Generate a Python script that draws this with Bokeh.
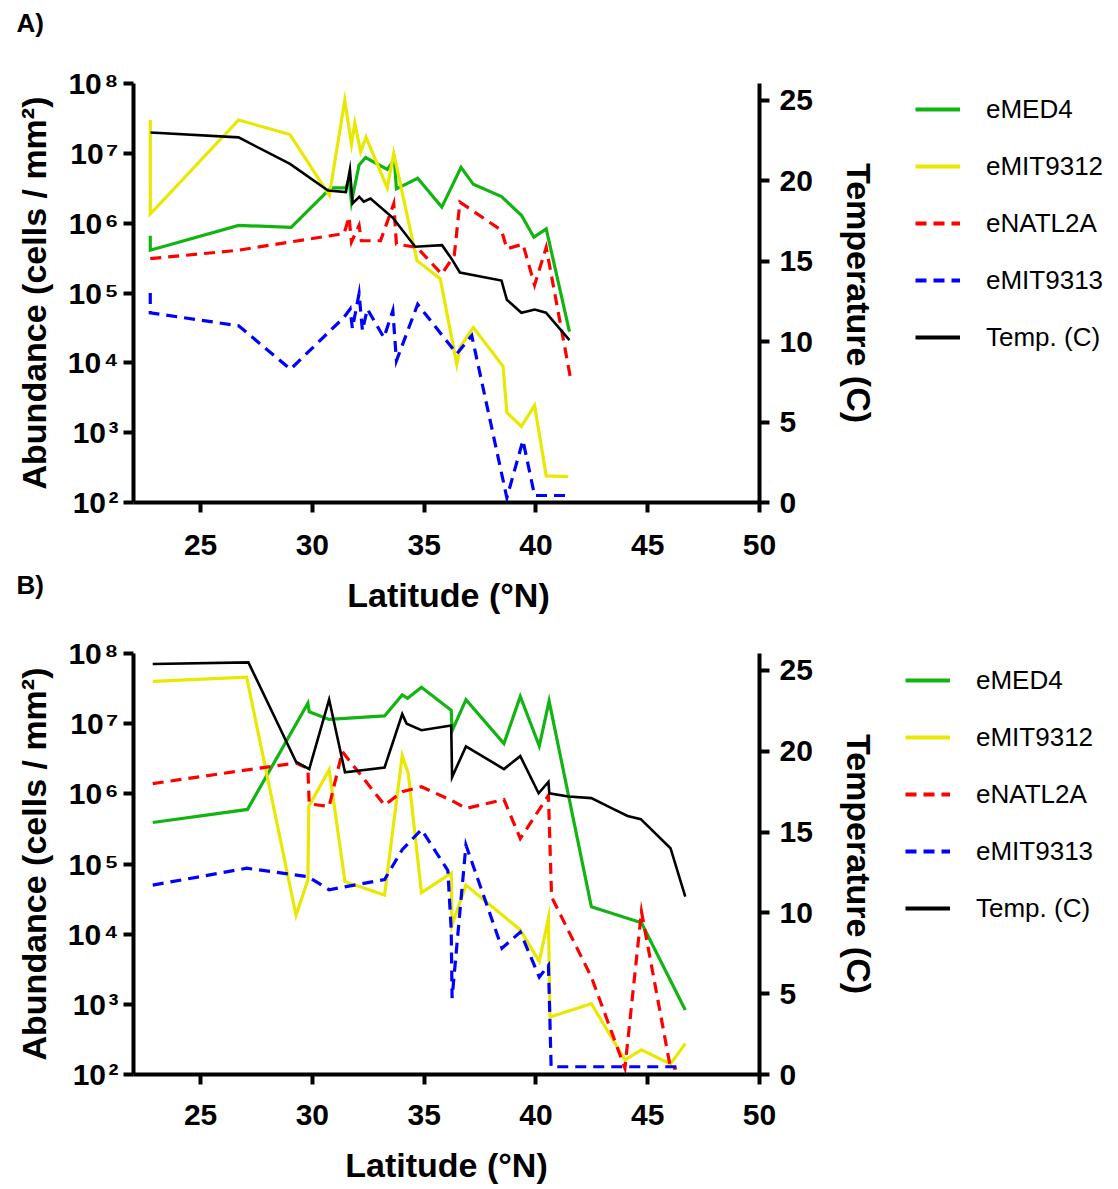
from bokeh.plotting import figure
from bokeh.models import (Range1d, LinearAxis, LinearScale, FixedTicker, CustomJSTickFormatter,
                          Legend, LegendItem, Label)
from bokeh.layouts import column, row
from bokeh.embed import file_html
from bokeh.resources import INLINE

FONT = "Liberation Sans"
W = 1110
PW = 880          # width of a chart panel; the rest holds its legend
LW = W - PW

SERIES = ["eMED4", "eMIT9312", "eNATL2A", "eMIT9313"]
TEMP_LABEL = "Temp. (C)"
X_TICKS = [25, 30, 35, 40, 45, 50]
T_TICKS = [0, 5, 10, 15, 20, 25]

# ---------------- Panel A ----------------
A_lat_med4 = [22.75, 22.75, 26.7, 29.05, 30.83, 31.5, 31.64, 31.75, 32.09, 32.38, 33.35,
              33.67, 33.76, 34.71, 35.79, 36.65, 37.2, 38.46, 39.35, 39.91, 40.46, 41.5]
A_med4 = [6.6e5, 4.1e5, 9.3e5, 8.7e5, 3.2e6, 3.2e6, 4.3e6, 2.0e6, 6.8e6, 8.7e6, 5.9e6,
          8.1e6, 3.1e6, 4.4e6, 1.7e6, 6.3e6, 3.6e6, 2.4e6, 1.3e6, 6.3e5, 8.3e5, 2.8e4]

A_lat_9312 = [22.75, 22.75, 26.7, 29.0, 30.76, 31.45, 31.75, 31.9, 32.16, 32.4, 33.35, 33.64,
              34.68, 35.72, 36.46, 36.6, 37.2, 38.53, 38.7, 39.35, 39.94, 40.46, 41.44]
A_9312 = [3.0e7, 1.35e6, 3.0e7, 1.86e7, 2.5e6, 5.75e7, 1.35e7, 2.7e7, 1.05e7, 1.7e7, 3.2e6, 1.0e7,
          2.9e5, 1.6e5, 9.5e3, 1.66e4, 3.2e4, 8.9e3, 1.95e3, 1.23e3, 2.45e3, 240, 235]

A_lat_natl = [22.75, 26.7, 29.05, 31.42, 31.64, 31.75, 32.09, 32.19, 33.05, 33.64, 33.76,
              34.68, 35.79, 36.35, 36.6, 38.46, 38.7, 39.42, 39.94, 40.46, 41.54]
A_natl = [3.1e5, 4.1e5, 5.4e5, 7.1e5, 1.23e6, 5.4e5, 9.3e5, 5.6e5, 5.6e5, 1.9e6, 5.0e5,
          4.5e5, 1.86e5, 3.5e5, 2.0e6, 7.9e5, 4.3e5, 5.0e5, 1.3e5, 4.5e5, 6.2e3]

A_lat_9313 = [22.75, 22.75, 26.7, 29.02, 31.42, 31.69, 31.79, 32.09, 32.24, 32.46, 33.2,
              33.6, 33.76, 34.71, 36.46, 37.13, 38.7, 39.42, 39.94, 41.5]
A_9313 = [1.0e5, 5.2e4, 3.4e4, 8.1e3, 4.5e4, 5.9e4, 3.1e4, 9.8e4, 2.9e4, 5.9e4, 2.3e4,
          5.6e4, 1.07e4, 6.9e4, 1.35e4, 2.45e4, 117, 776, 126, 126]

A_lat_temp = [22.76, 26.7, 29.0, 30.7, 31.5, 31.68, 31.8, 32.1, 32.3, 32.6, 33.6, 34.6,
              35.8, 36.25, 36.6, 38.46, 38.7, 39.35, 39.95, 40.45, 41.5]
A_temp = [23.0, 22.7, 21.05, 19.4, 19.3, 20.7, 18.6, 19.0, 18.7, 18.9, 17.7, 15.9,
          16.0, 15.1, 14.3, 13.8, 12.6, 11.8, 12.0, 11.8, 10.1]

# ---------------- Panel B ----------------
B_lat_med4 = [22.86, 27.1, 29.8, 29.86, 30.75, 33.23, 34.02, 34.26, 34.88, 36.21, 36.25,
              36.87, 38.57, 39.3, 40.15, 40.59, 42.48, 44.72, 46.68]
B_med4 = [3.9e5, 6.0e5, 1.95e7, 1.48e7, 1.15e7, 1.29e7, 2.57e7, 2.3e7, 3.3e7, 1.55e7, 7.9e6,
          2.2e7, 5.2e6, 2.45e7, 4.8e6, 2.1e7, 2.45e4, 1.45e4, 830]

B_lat_9312 = [22.86, 27.06, 29.27, 29.8, 29.84, 30.75, 31.46, 33.23, 34.02, 34.29, 34.88,
              36.21, 36.25, 36.87, 39.3, 40.15, 40.56, 40.63, 42.48, 43.98, 44.72, 46.02, 46.68]
B_9312 = [4.0e7, 4.6e7, 1.86e4, 5.9e4, 6.6e5, 2.2e6, 5.6e4, 3.6e4, 3.5e6, 1.95e6, 3.9e4,
          7.4e4, 1.35e4, 5.0e4, 1.15e4, 4.1e3, 1.7e4, 660, 1.02e3, 162, 224, 141, 275]

B_lat_natl = [22.86, 27.1, 29.27, 29.8, 29.86, 30.75, 31.34, 33.23, 34.02, 34.88, 36.21,
              36.87, 38.57, 39.3, 40.56, 40.7, 42.48, 43.98, 44.72, 46.02, 46.3]
B_natl = [1.4e6, 2.2e6, 2.75e6, 2.3e6, 7.2e5, 6.6e5, 4.0e6, 6.9e5, 1.07e6, 1.26e6, 8.1e5,
          6.2e5, 8.3e5, 2.3e5, 9.5e5, 3.4e4, 2.45e3, 123, 2.1e4, 123, 123]

B_lat_9313 = [22.86, 27.06, 29.8, 30.75, 33.23, 34.02, 34.88, 36.06, 36.21, 36.25, 36.87,
              38.48, 39.3, 40.15, 40.56, 40.68, 46.3]
B_9313 = [5.0e4, 8.7e4, 6.6e4, 4.3e4, 6.0e4, 1.6e5, 3.1e5, 8.1e4, 1.17e4, 1.23e3, 1.86e5,
          6.3e3, 1.07e4, 2.45e3, 3.6e3, 129, 129]

B_lat_temp = [22.86, 27.14, 29.27, 29.86, 30.75, 31.46, 33.23, 34.02, 34.22, 34.88, 36.21,
              36.25, 36.87, 38.57, 39.3, 40.12, 40.56, 40.6, 41.45, 42.48, 43.36, 44.1,
              44.69, 46.02, 46.68]
B_temp = [25.4, 25.5, 19.35, 18.9, 23.2, 18.7, 19.0, 22.3, 21.7, 21.3, 21.6, 18.4, 20.3,
          18.9, 19.7, 17.4, 18.1, 17.4, 17.2, 17.1, 16.5, 16.0, 15.8, 14.0, 11.0]

COLORS = ["#12B412", "#E8E800", "#FF0000", "#0000FF"]
DASHES = ["solid", "solid", "11 7", "11 7"]
TEMP_COLOR = "black"

SUP = CustomJSTickFormatter(code="""
const sup = {"0":"\u2070","1":"\u00b9","2":"\u00b2","3":"\u00b3","4":"\u2074",
             "5":"\u2075","6":"\u2076","7":"\u2077","8":"\u2078","9":"\u2079"};
const e = Math.round(Math.log10(tick));
return "10\u200a" + String(e).split("").map(c => sup[c]).join("");
""")


def style_axis(ax):
    ax.axis_line_width = 4
    ax.axis_line_color = "black"
    ax.major_tick_line_width = 4
    ax.major_tick_line_color = "black"
    ax.major_tick_out = 10
    ax.major_tick_in = 0
    ax.minor_tick_line_color = None
    ax.major_label_text_font = FONT
    ax.major_label_text_font_style = "bold"
    ax.major_label_text_font_size = "30px"
    ax.major_label_text_color = "black"
    ax.axis_label_text_font = FONT
    ax.axis_label_text_font_style = "bold"
    ax.axis_label_text_font_size = "34px"
    ax.axis_label_text_color = "black"


def make_panel(data, temp_lat, temp_vals, height, border_top, border_bottom,
               lbl_std, xlbl_std, xlabel):
    p = figure(width=PW, height=height, x_range=Range1d(22, 50),
               y_range=Range1d(1e2, 1e8), y_axis_type="log",
               output_backend="svg", toolbar_location=None,
               min_border_left=133, min_border_right=PW - 763,
               min_border_top=border_top, min_border_bottom=border_bottom,
               frame_align=False)
    p.outline_line_color = None
    p.xgrid.visible = False
    p.ygrid.visible = False
    p.background_fill_color = "white"

    p.extra_y_ranges = {"temp": Range1d(0, 26.05)}
    p.extra_y_scales = {"temp": LinearScale()}

    xa = p.xaxis[0]
    style_axis(xa)
    xa.ticker = FixedTicker(ticks=X_TICKS)
    if xlabel:
        xa.axis_label = xlabel
    xa.major_label_standoff = lbl_std
    xa.axis_label_standoff = xlbl_std

    ya = p.yaxis[0]
    style_axis(ya)
    ya.ticker = FixedTicker(ticks=[1e2, 1e3, 1e4, 1e5, 1e6, 1e7, 1e8])
    ya.formatter = SUP
    ya.axis_label = "Abundance (cells / mm²)"
    ya.major_label_standoff = 5
    ya.axis_label_standoff = 12

    ra = LinearAxis(y_range_name="temp")
    style_axis(ra)
    ra.ticker = FixedTicker(ticks=T_TICKS)
    ra.axis_label = "Temperature (C)"
    ra.major_label_standoff = 10
    ra.axis_label_standoff = 24
    p.add_layout(ra, "right")

    for (lat, vals), col, dash in zip(data, COLORS, DASHES):
        p.line(lat, vals, line_color=col, line_width=3.2, line_dash=dash,
               line_join="miter")
    p.line(temp_lat, temp_vals, y_range_name="temp", line_color=TEMP_COLOR,
           line_width=2.6, line_join="miter")
    return p


def legend_fig(height, data, temp_lat, temp_vals, leg_x, leg_y):
    # The legend sits in its own canvas; its lines reuse the panel's series,
    # which lie outside this canvas's ranges, so only the legend glyphs show.
    f = figure(width=LW, height=height, x_range=Range1d(0, 1), y_range=Range1d(0, 1),
               x_axis_location=None, y_axis_location=None, output_backend="svg",
               toolbar_location=None, min_border=0, frame_align=False)
    f.outline_line_color = None
    f.xgrid.visible = False
    f.ygrid.visible = False
    items = []
    for (lat, vals), name, col, dash in zip(data, SERIES, COLORS, DASHES):
        r = f.line(lat, vals, line_color=col, line_width=4, line_dash=dash)
        items.append(LegendItem(label=name, renderers=[r]))
    r = f.line(temp_lat, temp_vals, line_color=TEMP_COLOR, line_width=4)
    items.append(LegendItem(label=TEMP_LABEL, renderers=[r]))
    leg = Legend(items=items, location=(leg_x, leg_y))
    leg.padding = 0
    leg.margin = 0
    leg.spacing = 25
    leg.glyph_width = 45
    leg.glyph_height = 32
    leg.label_height = 32
    leg.label_standoff = 26
    leg.label_text_font = FONT
    leg.label_text_font_size = "26px"
    leg.label_text_color = "black"
    leg.background_fill_alpha = 0
    leg.border_line_color = None
    f.add_layout(leg, "center")
    return f


def strip(height, texts):
    s = figure(width=W, height=height, x_range=Range1d(0, W), y_range=Range1d(0, height),
               x_axis_location=None, y_axis_location=None, output_backend="svg",
               toolbar_location=None, min_border=0, frame_align=False)
    s.outline_line_color = None
    s.xgrid.visible = False
    s.ygrid.visible = False
    for txt, x, y, size, align in texts:
        s.add_layout(Label(x=x, y=y, text=txt, text_font=FONT, text_font_style="bold",
                           text_font_size=size, text_align=align,
                           text_baseline="alphabetic", text_color="black"))
    return s


HA, HB = 508, 559
A_data = [(A_lat_med4, A_med4), (A_lat_9312, A_9312), (A_lat_natl, A_natl),
          (A_lat_9313, A_9313)]
B_data = [(B_lat_med4, B_med4), (B_lat_9312, B_9312), (B_lat_natl, B_natl),
          (B_lat_9313, B_9313)]

top = strip(58, [("A)", 16, 36, "26px", "left")])

pA = make_panel(A_data, A_lat_temp, A_temp, height=HA, border_top=25, border_bottom=64,
                lbl_std=22, xlbl_std=15, xlabel=None)
legA = legend_fig(HA, A_data, A_lat_temp, A_temp, 35, 213)

mid = strip(62, [("B)", 16, 44, "26px", "left"),
                 ("Latitude (°N)", 448, 34, "34px", "center")])

pB = make_panel(B_data, B_lat_temp, B_temp, height=HB, border_top=25, border_bottom=113,
                lbl_std=20, xlbl_std=18, xlabel="Latitude (°N)")
legB = legend_fig(HB, B_data, B_lat_temp, B_temp, 25, 263)

layout = column(top, row(pA, legA, spacing=0), mid, row(pB, legB, spacing=0), spacing=0)
open("out.html", "w").write(file_html(layout, INLINE))
